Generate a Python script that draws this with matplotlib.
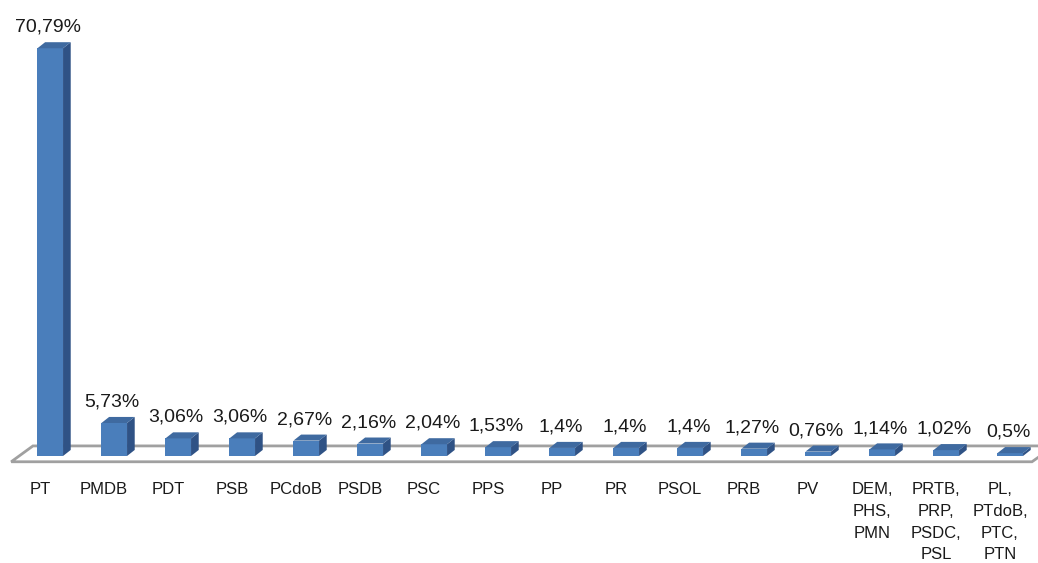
import numpy as np
import matplotlib.pyplot as plt
from matplotlib.patches import Polygon

# ==========================
# 数据
# ==========================
partidos = ["PT", "PMDB", "PDT", "PSB", "PCdoB", "PSDB", "PSC", "PPS",
            "PP", "PR", "PSOL", "PRB", "PV", "DEM,\nPHS,\nPMN",
            "PRTB,\nPRP,\nPSDC,\nPSL", "PL,\nPTdoB,\nPTC,\nPTN"]
valores = [70.79, 5.73, 3.06, 3.06, 2.67, 2.16, 2.04, 1.53,
           1.4, 1.4, 1.4, 1.27, 0.76, 1.14, 1.02, 0.5]
rotulos = ["70,79%", "5,73%", "3,06%", "3,06%", "2,67%", "2,16%", "2,04%",
           "1,53%", "1,4%", "1,4%", "1,4%", "1,27%", "0,76%", "1,14%",
           "1,02%", "0,5%"]

# cores (estilo Excel 3D)
frente = "#4A7EBB"
lado = "#2F5285"
topo = "#3F6AA0"

# ==========================
# figura: eixos ocupam a figura toda
# ==========================
fig = plt.figure(figsize=(10.38, 5.63), dpi=100)
ax = fig.add_axes([0, 0, 1, 1])
ax.set_xlim(-0.625, -0.625 + 1038 / 64)
ax.set_ylim(-(563 - 456) / 5.76, 456 / 5.76)
ax.axis("off")

n = len(valores)
x = np.arange(n)

# deslocamento da profundidade (unidades dos dados)
dx = 0.12
dy = 1.05
larg = 0.40
desloc = 0.16

# piso
piso = Polygon([(-0.45, -1.0), (15.5, -1.0), (15.85, 1.75), (-0.11, 1.75)],
               closed=True, facecolor="white", edgecolor="#A0A0A0",
               linewidth=2.0, zorder=1)
ax.add_patch(piso)

# barras 3D
for i, v in enumerate(valores):
    xc = x[i] + desloc
    x0 = xc - larg / 2
    x1 = xc + larg / 2
    ax.bar(xc, v, width=larg, color=frente, edgecolor="none", zorder=3)
    ax.add_patch(Polygon([(x1, 0), (x1 + dx, dy), (x1 + dx, v + dy), (x1, v)],
                         closed=True, facecolor=lado, edgecolor="none", zorder=3))
    ax.add_patch(Polygon([(x0, v), (x1, v), (x1 + dx, v + dy), (x0 + dx, v + dy)],
                         closed=True, facecolor=topo, edgecolor="none", zorder=3))
    # rótulo de dados
    ax.text(xc - 0.03, v + dy + 1.1, rotulos[i], ha="center", va="bottom",
            fontsize=14, family="Liberation Sans", color="#1a1a1a")

# rótulos das categorias
for i, nome in enumerate(partidos):
    ax.text(x[i], -4.6, nome, ha="center", va="top", fontsize=12,
            family="Liberation Sans", color="#1a1a1a", linespacing=1.55)

plt.savefig("out.png", dpi=100)
plt.close()
